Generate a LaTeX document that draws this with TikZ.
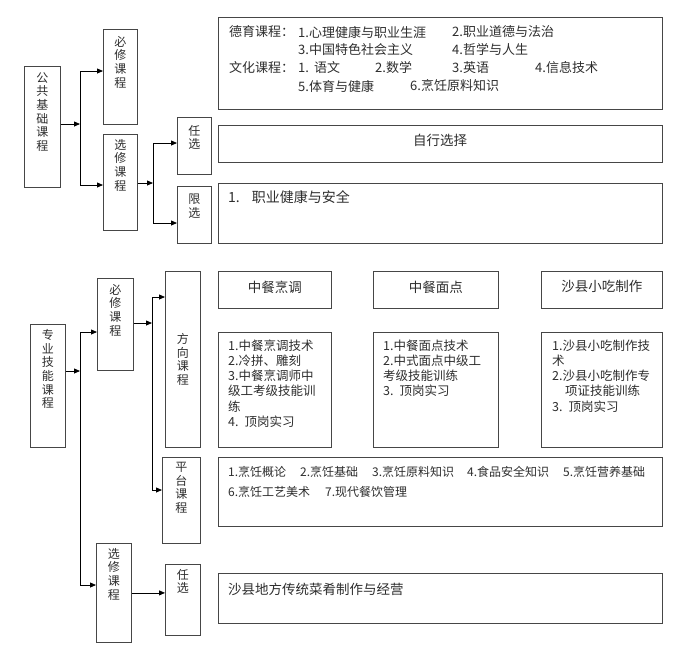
\documentclass[tikz,border=0pt]{standalone}
\usepackage{fontspec}
\setmainfont{Noto Sans CJK SC}
\usetikzlibrary{arrows.meta,positioning}
\definecolor{boxgray}{RGB}{70,70,70}
\definecolor{inkgray}{RGB}{45,45,45}

\begin{document}
\begin{tikzpicture}[x=1pt,y=-1pt,
  cbox/.style 2 args={draw=boxgray,line width=0.8pt,inner sep=0pt,anchor=north west,minimum width=#1pt,minimum height=#2pt},
  vtxt/.style={align=center,inner sep=0pt,text=inkgray,font=\fontsize{12}{13.7}\selectfont},
  txt/.style={anchor=west,inner sep=0pt,text=inkgray,font=\fontsize{13}{16}\selectfont},
  ptxt/.style={anchor=west,inner sep=0pt,text=inkgray,font=\fontsize{12}{15}\selectfont},
  list/.style={anchor=north west,align=left,inner sep=0pt,text=inkgray,font=\fontsize{12.5}{15.2}\selectfont},
  ttl/.style={inner sep=0pt,text=inkgray,font=\fontsize{13.5}{16}\selectfont},
  wire/.style={line width=0.8pt},
  link/.style={line width=0.8pt,-{Triangle[length=6pt,width=5pt]}}]

\useasboundingbox (0,0) rectangle (700,646);

\node (gjkc) at (24,66) [cbox={36}{121}] {};
\node (bx1) at (103,29) [cbox={34}{95}] {};
\node (xx1) at (103,134) [cbox={34}{96}] {};
\node (rx1) at (177,117) [cbox={34}{57}] {};
\node (lx1) at (177,186) [cbox={34}{57}] {};
\node (dykc) at (218,17) [cbox={444}{92}] {};
\node (zxxz) at (218,125) [cbox={444}{37}] {};
\node (xxnr) at (218,183) [cbox={444}{60}] {};

\node (gjkc-t) [vtxt,below=6pt of gjkc.north] {公\\共\\基\\础\\课\\程};
\node (bx1-t) [vtxt,below=7pt of bx1.north] {必\\修\\课\\程};
\node (xx1-t) [vtxt,below=5pt of xx1.north] {选\\修\\课\\程};
\node (rx1-t) [vtxt,below=8pt of rx1.north] {任\\选};
\node (lx1-t) [vtxt,below=8pt of lx1.north] {限\\选};

\node (dy1) at (229,32) [txt] {德育课程：};
\node (dy2) at (298,32) [txt] {1.心理健康与职业生涯};
\node (dy3) at (452,32) [txt] {2.职业道德与法治};
\node (dy4) at (298,50) [txt] {3.中国特色社会主义};
\node (dy5) at (452,50) [txt] {4.哲学与人生};
\node (wh1) at (229,68) [txt] {文化课程：};
\node (wh2) at (298,68) [txt] {1.\hspace{5pt}语文};
\node (wh3) at (375,68) [txt] {2.数学};
\node (wh4) at (452,68) [txt] {3.英语};
\node (wh5) at (535,68) [txt] {4.信息技术};
\node (wh6) at (298,86) [txt] {5.体育与健康};
\node (wh7) at (410,86) [txt] {6.烹饪原料知识};
\node (zxxz-t) at (440,140) [ttl] {自行选择};
\node (xxnr-t) at (228,197) [txt,font=\fontsize{14}{16}\selectfont] {1.\hspace{12pt}职业健康与安全};

\coordinate (a1) at (80,124);
\coordinate (a1t) at (80,71);
\coordinate (a1b) at (80,185);
\draw[link] (gjkc.east |- a1) -- (a1);
\draw[wire] (a1t) -- (a1b);
\draw[link] (a1t) -- (bx1.west |- a1t);
\draw[link] (a1b) -- (xx1.west |- a1b);

\coordinate (a2) at (153,183);
\coordinate (a2t) at (153,143);
\coordinate (a2b) at (153,223);
\draw[link] (xx1.east |- a2) -- (a2);
\draw[wire] (a2t) -- (a2b);
\draw[link] (a2t) -- (rx1.west |- a2t);
\draw[link] (a2b) -- (lx1.west |- a2b);

\node (zyjn) at (30,324) [cbox={35}{123}] {};
\node (bx2) at (97,278) [cbox={36}{92}] {};
\node (fxkc) at (165,271) [cbox={35}{176}] {};
\node (ptkc) at (162,457) [cbox={38}{86}] {};
\node (xx2) at (96,543) [cbox={35}{99}] {};
\node (rx2) at (165,564) [cbox={35}{71}] {};
\node (zcpt) at (218,271) [cbox={113}{37}] {};
\node (zcmd) at (373,271) [cbox={125}{37}] {};
\node (sxxc) at (541,271) [cbox={121}{37}] {};
\node (zcpt-c) at (218,332) [cbox={113}{115}] {};
\node (zcmd-c) at (373,332) [cbox={125}{115}] {};
\node (sxxc-c) at (541,332) [cbox={121}{115}] {};
\node (ptnr) at (218,457) [cbox={444}{69}] {};
\node (sxdf) at (218,573) [cbox={444}{50}] {};

\node (zyjn-t) [vtxt,below=5pt of zyjn.north] {专\\业\\技\\能\\课\\程};
\node (bx2-t) [vtxt,below=6pt of bx2.north] {必\\修\\课\\程};
\node (fxkc-t) at (fxkc.center) [vtxt] {方\\向\\课\\程};
\node (ptkc-t) [vtxt,below=5pt of ptkc.north] {平\\台\\课\\程};
\node (xx2-t) [vtxt,below=5pt of xx2.north] {选\\修\\课\\程};
\node (rx2-t) [vtxt,below=5pt of rx2.north] {任\\选};

\node (zcpt-t) at ([yshift=3pt]zcpt.center) [ttl] {中餐烹调};
\node (zcmd-t) at ([yshift=3pt]zcmd.center) [ttl] {中餐面点};
\node (sxxc-t) at ([yshift=3pt]sxxc.center) [ttl] {沙县小吃制作};

\node (zcpt-l) at (228,339.5) [list] {1.中餐烹调技术\\2.冷拼、雕刻\\3.中餐烹调师中\\级工考级技能训\\练\\4.\hspace{6pt}顶岗实习};
\node (zcmd-l) at (383,339.5) [list] {1.中餐面点技术\\2.中式面点中级工\\考级技能训练\\3.\hspace{6pt}顶岗实习};
\node (sxxc-l) at (552,339.5) [list] {1.沙县小吃制作技\\术\\2.沙县小吃制作专\\\hspace{13pt}项证技能训练\\3.\hspace{6pt}顶岗实习};

\node (pt1) at (228,472) [ptxt] {1.烹饪概论};
\node (pt2) at (300,472) [ptxt] {2.烹饪基础};
\node (pt3) at (372,472) [ptxt] {3.烹饪原料知识};
\node (pt4) at (467,472) [ptxt] {4.食品安全知识};
\node (pt5) at (563,472) [ptxt] {5.烹饪营养基础};
\node (pt6) at (228,492) [ptxt] {6.烹饪工艺美术};
\node (pt7) at (325,492) [ptxt] {7.现代餐饮管理};
\node (sxdf-t) at (228,589) [txt,font=\fontsize{13.5}{16}\selectfont] {沙县地方传统菜肴制作与经营};

\coordinate (b1) at (80,371);
\coordinate (b1t) at (80,332);
\coordinate (b1b) at (80,585);
\draw[link] (zyjn.east |- b1) -- (b1);
\draw[wire] (b1t) -- (b1b);
\draw[link] (b1t) -- (bx2.west |- b1t);
\draw[link] (b1b) -- (xx2.west |- b1b);

\coordinate (b2) at (152,323);
\coordinate (b2t) at (152,297);
\coordinate (b2b) at (152,490);
\draw[link] (bx2.east |- b2) -- (b2);
\draw[wire] (b2t) -- (b2b);
\draw[link] (b2t) -- (fxkc.west |- b2t);
\draw[link] (b2b) -- (ptkc.west |- b2b);

\draw[link] (xx2.east) -- (rx2.west |- xx2.east);

\end{tikzpicture}
\end{document}
